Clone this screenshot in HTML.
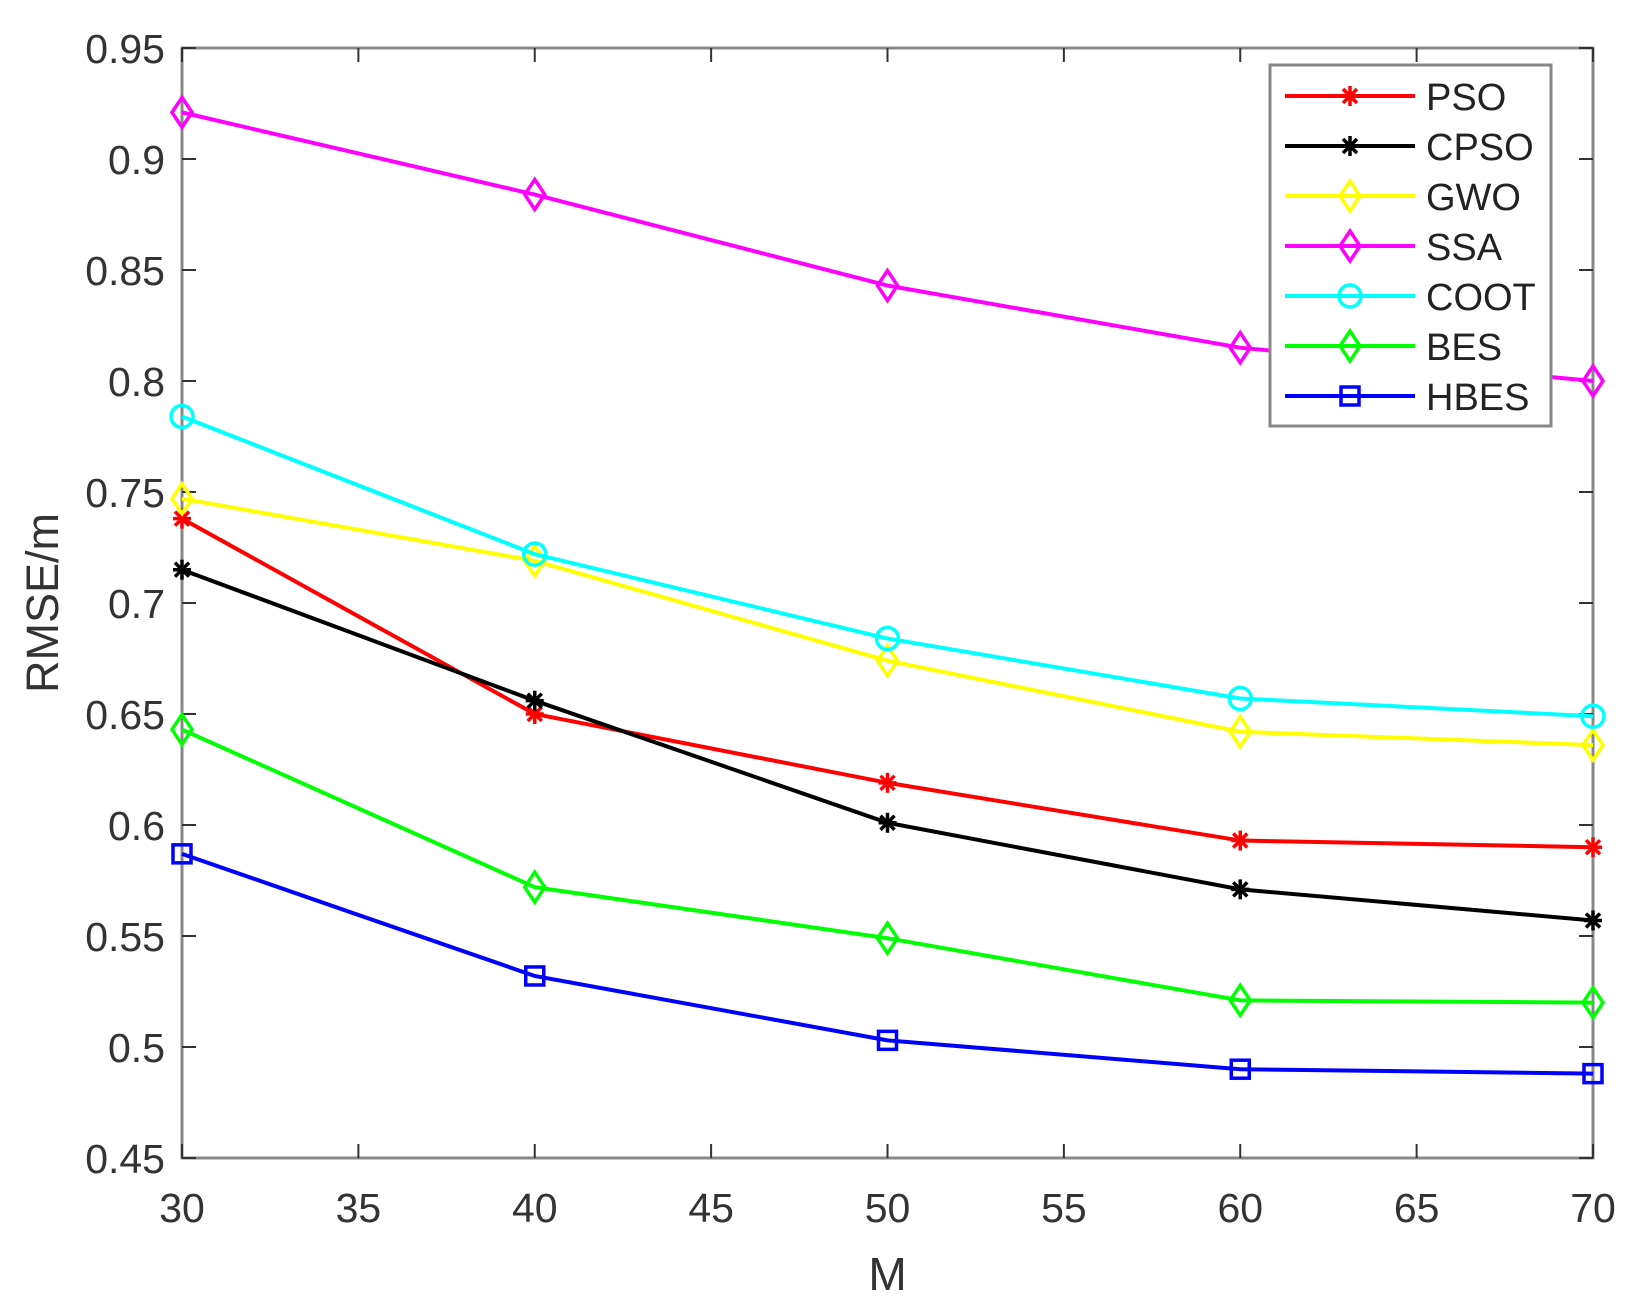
<!DOCTYPE html>
<html><head><style>body{margin:0;background:#fff}svg{display:block}</style></head>
<body>
<svg id="s" width="1634" height="1306" xmlns="http://www.w3.org/2000/svg" font-family="Liberation Sans, sans-serif"></svg>
<script>
const L=182,R=1593,T=48,B=1158;
const X=v=>L+(v-30)*(R-L)/40, Y=v=>B-(v-0.45)*(B-T)/0.5;
let s='<rect x="'+L+'" y="'+T+'" width="'+(R-L)+'" height="'+(B-T)+'" fill="none" stroke="#888" stroke-width="3"/>';
for(let m=30;m<=70;m+=5){const x=X(m);
 s+=`<line x1="${x}" y1="${B}" x2="${x}" y2="${B-14}" stroke="#333" stroke-width="2"/><line x1="${x}" y1="${T}" x2="${x}" y2="${T+14}" stroke="#333" stroke-width="2"/>`;
 s+=`<text x="${x}" y="${B+64}" font-size="41" fill="#333" text-anchor="middle">${m}</text>`;}
for(let i=0;i<=10;i++){const v=0.45+i*0.05,y=Y(v);
 s+=`<line x1="${L}" y1="${y}" x2="${L+14}" y2="${y}" stroke="#333" stroke-width="2"/><line x1="${R}" y1="${y}" x2="${R-14}" y2="${y}" stroke="#333" stroke-width="2"/>`;
 s+=`<text x="165" y="${y+15}" font-size="41" fill="#333" text-anchor="end">${+v.toFixed(2)}</text>`;}
s+=`<text x="${(L+R)/2}" y="1290" font-size="46" fill="#333" text-anchor="middle">M</text>`;
s+=`<text transform="translate(58 ${(T+B)/2}) rotate(-90)" font-size="45" fill="#333" text-anchor="middle">RMSE/m</text>`;
const ser=[
['PSO','#ff0000','star',[0.738,0.650,0.619,0.593,0.590]],
['CPSO','#000000','star',[0.715,0.656,0.601,0.571,0.557]],
['GWO','#ffff00','dia',[0.747,0.719,0.674,0.642,0.636]],
['SSA','#ff00ff','dia',[0.921,0.884,0.843,0.815,0.800]],
['COOT','#00ffff','circ',[0.784,0.722,0.684,0.657,0.649]],
['BES','#00ff00','dia',[0.643,0.572,0.549,0.521,0.520]],
['HBES','#0000ff','sq',[0.587,0.532,0.503,0.490,0.488]]];
function mk(t,x,y,c){
 if(t=='star')return `<g stroke="${c}" stroke-width="3.5"><line x1="${x-9}" y1="${y}" x2="${x+9}" y2="${y}"/><line x1="${x}" y1="${y-10}" x2="${x}" y2="${y+10}"/><line x1="${x-7}" y1="${y-7}" x2="${x+7}" y2="${y+7}"/><line x1="${x-7}" y1="${y+7}" x2="${x+7}" y2="${y-7}"/></g>`;
 if(t=='dia')return `<polygon points="${x},${y-15} ${x+10},${y} ${x},${y+15} ${x-10},${y}" fill="none" stroke="${c}" stroke-width="3.5"/>`;
 if(t=='circ')return `<circle cx="${x}" cy="${y}" r="11" fill="none" stroke="${c}" stroke-width="3.5"/>`;
 return `<rect x="${x-9}" y="${y-9}" width="18" height="18" fill="none" stroke="${c}" stroke-width="3.5"/>`;}
ser.forEach(([n,c,t,d])=>{
 const p=d.map((v,i)=>X(30+10*i)+','+Y(v)).join(' ');
 s+=`<polyline points="${p}" fill="none" stroke="${c}" stroke-width="4"/>`;
 d.forEach((v,i)=>s+=mk(t,X(30+10*i),Y(v),c));});
s+='<rect x="1270" y="65" width="281" height="361" fill="#fff" stroke="#888" stroke-width="3"/>';
ser.forEach(([n,c,t],i)=>{const y=96+i*50;
 s+=`<line x1="1285" y1="${y}" x2="1415" y2="${y}" stroke="${c}" stroke-width="4"/>`+mk(t,1350,y,c);
 s+=`<text x="1426" y="${y+14}" font-size="38" fill="#222">${n}</text>`;});
document.getElementById('s').innerHTML=s;
</script>
</body></html>
